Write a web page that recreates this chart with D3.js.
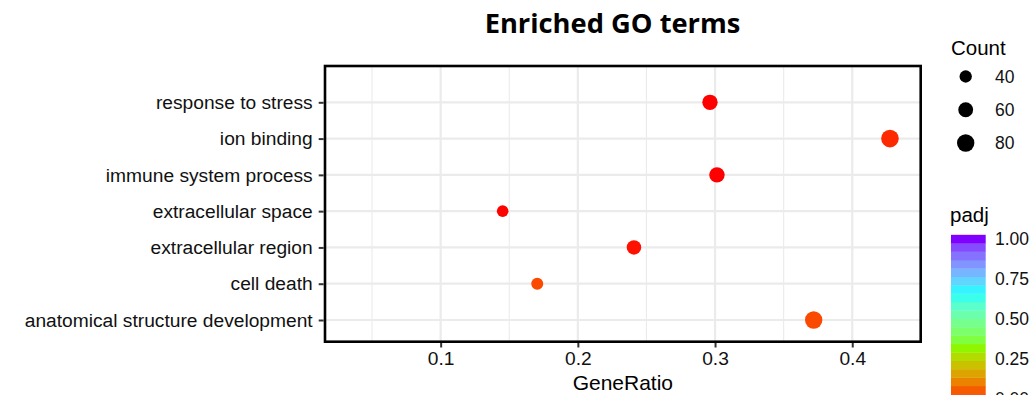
<!DOCTYPE html>
<html>
<head>
<meta charset="utf-8">
<script src="https://cdn.jsdelivr.net/npm/d3@7"></script>
<style>
  html, body { margin: 0; padding: 0; background: #fff; }
  svg { display: block; }
  text { font-family: "Liberation Sans", Arial, sans-serif; }
</style>
</head>
<body>
<svg id="chart" width="1034" height="395"></svg>
<script>
// GO enrichment results (top to bottom)
const terms = [
  "response to stress",
  "ion binding",
  "immune system process",
  "extracellular space",
  "extracellular region",
  "cell death",
  "anatomical structure development"
];
const geneRatio = [0.2963, 0.4275, 0.3014, 0.1452, 0.2409, 0.1704, 0.3719];
const counts    = [64, 82, 65, 34, 57, 37, 80];
const padj      = [0.0, 0.012, 0.0, 0.0, 0.003, 0.035, 0.035];

const xTicks = [0.1, 0.2, 0.3, 0.4];
const xMinor = [0.05, 0.15, 0.25, 0.35];
const countBreaks = [40, 60, 80];
const padjBreaks = [0, 0.25, 0.5, 0.75, 1];
const palette = ["#FF0000", "#80FF00", "#00FFFF", "#8000FF"];

const svg = d3.select("#chart");

const panel = { left: 325, right: 920.7, top: 66, bottom: 341.7 };

const x = d3.scaleLinear().domain([0.0157, 0.4499]).range([panel.left, panel.right]);
const y = d3.scalePoint().domain(terms).range([102.3, 320]);
const r = d3.scaleLinear().domain([34, 82]).range([5.8, 8.8]);
const color = d3.scaleLinear()
  .domain(palette.map((_, i) => i / (palette.length - 1)))
  .range(palette)
  .interpolate(d3.interpolateLab);

// title
svg.append("text")
  .attr("x", 612.5).attr("y", 32.5)
  .attr("text-anchor", "middle")
  .style("font-family", "'Open Sans', sans-serif")
  .style("font-weight", "bold")
  .style("font-size", "27.3px")
  .attr("fill", "#000")
  .text("Enriched GO terms");

// grid
const grid = svg.append("g");
grid.selectAll("line.minor").data(xMinor).join("line")
  .attr("x1", d => x(d)).attr("x2", d => x(d))
  .attr("y1", panel.top).attr("y2", panel.bottom)
  .attr("stroke", "#ebebeb").attr("stroke-width", 1.1);
grid.selectAll("line.majx").data(xTicks).join("line")
  .attr("x1", d => x(d)).attr("x2", d => x(d))
  .attr("y1", panel.top).attr("y2", panel.bottom)
  .attr("stroke", "#ebebeb").attr("stroke-width", 2.2);
grid.selectAll("line.majy").data(terms).join("line")
  .attr("x1", panel.left).attr("x2", panel.right)
  .attr("y1", d => y(d)).attr("y2", d => y(d))
  .attr("stroke", "#ebebeb").attr("stroke-width", 2.2);

// points
const rows = terms.map((t, i) => ({ term: t, ratio: geneRatio[i], count: counts[i], padj: padj[i] }));
svg.append("g").selectAll("circle").data(rows).join("circle")
  .attr("cx", d => x(d.ratio))
  .attr("cy", d => y(d.term))
  .attr("r", d => r(d.count))
  .attr("fill", d => color(d.padj));

// panel border
svg.append("rect")
  .attr("x", panel.left).attr("y", panel.top)
  .attr("width", panel.right - panel.left).attr("height", panel.bottom - panel.top)
  .attr("fill", "none").attr("stroke", "#000").attr("stroke-width", 2.6);

// axes
const xAxis = svg.append("g")
  .attr("transform", `translate(0,${panel.bottom + 1.3})`)
  .call(d3.axisBottom(x).tickValues(xTicks).tickSize(4.5).tickPadding(4).tickFormat(d3.format(".1f")));
const yAxis = svg.append("g")
  .attr("transform", `translate(${panel.left - 1.3},0)`)
  .call(d3.axisLeft(y).tickSize(5).tickPadding(6));
[xAxis, yAxis].forEach(g => {
  g.select(".domain").remove();
  g.selectAll(".tick line").attr("stroke", "#333").attr("stroke-width", 2);
  g.selectAll(".tick text")
    .attr("fill", "#111")
    .style("font-family", "'Liberation Sans', Arial, sans-serif")
    .style("font-size", "19.2px");
});

svg.append("text")
  .attr("x", (panel.left + panel.right) / 2).attr("y", 390)
  .attr("text-anchor", "middle")
  .style("font-size", "21px")
  .attr("fill", "#000")
  .text("GeneRatio");

// size legend
const lg = svg.append("g");
lg.append("text").attr("x", 951).attr("y", 55)
  .style("font-size", "20.5px").attr("fill", "#000").text("Count");
const legY = d3.scalePoint().domain(countBreaks).range([76.5, 143]);
countBreaks.forEach(v => {
  lg.append("circle").attr("cx", 965.7).attr("cy", legY(v)).attr("r", r(v)).attr("fill", "#000");
  lg.append("text").attr("x", 995).attr("y", legY(v)).attr("dy", "0.35em")
    .style("font-size", "17.5px").attr("fill", "#111").text(v);
});

// colour bar legend
const cb = svg.append("g");
cb.append("text").attr("x", 950).attr("y", 222)
  .style("font-size", "20.5px").attr("fill", "#000").text("padj");
const nbin = 20;
const binVals = d3.range(nbin).map(i => i / (nbin - 1));
const cbY = d3.scaleLinear().domain([0, 1]).range([398.5, 239]);
const binH = (cbY(0) - cbY(1)) / (nbin - 1);
cb.selectAll("rect").data(binVals).join("rect")
  .attr("x", 951).attr("width", 34.7)
  .attr("y", d => cbY(d) - binH / 2).attr("height", binH + 0.3)
  .attr("fill", d => color(d));
padjBreaks.forEach(v => {
  cb.append("text").attr("x", 995).attr("y", cbY(v)).attr("dy", "0.35em")
    .style("font-size", "17.5px").attr("fill", "#111").text(d3.format(".2f")(v));
});
</script>
</body>
</html>
